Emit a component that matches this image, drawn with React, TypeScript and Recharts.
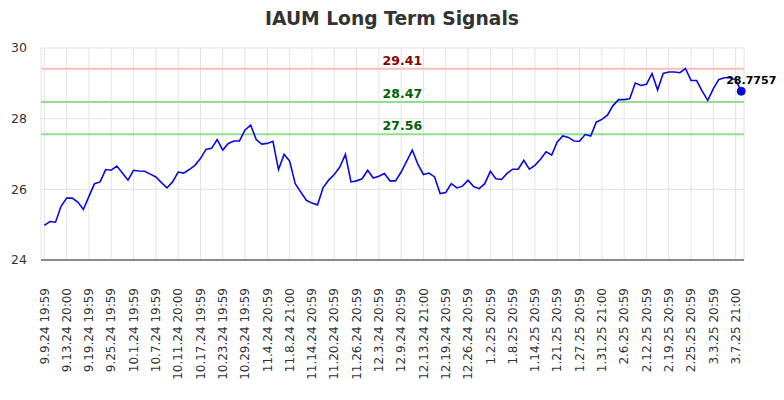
import {
  LineChart,
  Line,
  XAxis,
  YAxis,
  CartesianGrid,
  ReferenceLine,
  ReferenceDot,
} from 'recharts';

const dateLabels = [
  '9.9.24 19:59', '9.13.24 20:00', '9.19.24 19:59', '9.25.24 19:59',
  '10.1.24 19:59', '10.7.24 19:59', '10.11.24 20:00', '10.17.24 19:59',
  '10.23.24 19:59', '10.29.24 19:59', '11.4.24 20:59', '11.8.24 21:00',
  '11.14.24 20:59', '11.20.24 20:59', '11.26.24 20:59', '12.3.24 20:59',
  '12.9.24 20:59', '12.13.24 21:00', '12.19.24 20:59', '12.26.24 20:59',
  '1.2.25 20:59', '1.8.25 20:59', '1.14.25 20:59', '1.21.25 20:59',
  '1.27.25 20:59', '1.31.25 21:00', '2.6.25 20:59', '2.12.25 20:59',
  '2.19.25 20:59', '2.25.25 20:59', '3.3.25 20:59', '3.7.25 21:00',
];

// closing prices, one per trading day
const prices = [
  24.98, 25.09, 25.07, 25.52, 25.75, 25.75, 25.64, 25.43, 25.8, 26.16,
  26.21, 26.56, 26.54, 26.66, 26.46, 26.26, 26.54, 26.52, 26.51, 26.43,
  26.35, 26.19, 26.04, 26.21, 26.49, 26.46, 26.56, 26.68, 26.87, 27.13,
  27.16, 27.41, 27.11, 27.3, 27.37, 27.37, 27.68, 27.82, 27.41, 27.28,
  27.3, 27.36, 26.56, 26.99, 26.8, 26.16, 25.92, 25.69, 25.61, 25.56,
  26.05, 26.26, 26.42, 26.63, 26.99, 26.21, 26.24, 26.3, 26.54, 26.32,
  26.37, 26.45, 26.24, 26.24, 26.49, 26.8, 27.11, 26.71, 26.42, 26.46,
  26.35, 25.88, 25.91, 26.16, 26.04, 26.09, 26.26, 26.08, 26.02, 26.16,
  26.51, 26.3, 26.28, 26.45, 26.57, 26.57, 26.82, 26.57, 26.68, 26.85,
  27.06, 26.97, 27.34, 27.51, 27.47, 27.37, 27.36, 27.55, 27.51, 27.9,
  27.98, 28.1, 28.37, 28.54, 28.54, 28.56, 29.01, 28.94, 28.97, 29.28,
  28.81, 29.28, 29.32, 29.32, 29.3, 29.42, 29.08, 29.08, 28.78, 28.52,
  28.85, 29.11, 29.16, 29.16, 29.1, 28.7757,
];

const yTicks = [24, 26, 28, 30];
const resistance = 29.41;
const supports = [28.47, 27.56];

const data = prices.map((price, i) => ({ i, price }));
const xTicks = dateLabels.map((_, k) => k * 4);
const lastIdx = prices.length - 1;
const lastPrice = prices[lastIdx];

const font = 'DejaVu Sans';

function DateTick({ x, y, payload }: any) {
  const label = dateLabels[payload.value / 4];
  return (
    <text
      x={x}
      y={y + 20}
      transform={`rotate(-90, ${x}, ${y + 20})`}
      textAnchor="end"
      dy="0.35em"
      fontSize={12}
      fontFamily={font}
      fill="#333"
    >
      {label}
    </text>
  );
}

function levelLabel(value: number, color: string) {
  return ({ viewBox }: any) => (
    <text
      x={viewBox.x + viewBox.width * 0.514}
      y={viewBox.y - 4}
      textAnchor="middle"
      fontSize={12.5}
      fontWeight="bold"
      fontFamily={font}
      fill={color}
    >
      {value.toFixed(2)}
    </text>
  );
}

function lastLabel({ viewBox }: any) {
  const cx = viewBox.x + viewBox.width / 2;
  const cy = viewBox.y + viewBox.height / 2;
  return (
    <text
      x={cx - 15}
      y={cy - 7}
      fontSize={11}
      fontWeight="bold"
      fontFamily={font}
      fill="#000"
    >
      {lastPrice}
    </text>
  );
}

export default function App() {
  return (
    <div
      style={{
        position: 'absolute',
        left: 0,
        top: 0,
        width: 784,
        height: 400,
        fontFamily: font,
        background: '#fff',
      }}
    >
      <div
        style={{
          position: 'absolute',
          top: 9,
          left: 0,
          width: 784,
          textAlign: 'center',
          fontSize: 18.7,
          lineHeight: '20px',
          fontWeight: 'bold',
          color: '#333',
        }}
      >
        IAUM Long Term Signals
      </div>
      <LineChart
        width={784}
        height={400}
        data={data}
        margin={{ top: 48, right: 40, bottom: 0, left: 0 }}
      >
        <CartesianGrid stroke="#e3e3e3" />
        <XAxis
          dataKey="i"
          type="number"
          domain={[-0.6, 125.5]}
          ticks={xTicks}
          interval={0}
          height={140}
          tick={<DateTick />}
          tickLine={false}
          axisLine={{ stroke: '#222' }}
          allowDataOverflow
        />
        <YAxis
          type="number"
          domain={[24, 30]}
          ticks={yTicks}
          width={41}
          axisLine={false}
          tickLine={false}
          tickSize={6}
          tickMargin={8}
          tick={{ fontSize: 12.5, fontFamily: font, fill: '#333' }}
        />
        <ReferenceLine
          y={resistance}
          stroke="#ffbcbc"
          strokeWidth={2}
          label={levelLabel(resistance, '#8b0000')}
        />
        {supports.map((s) => (
          <ReferenceLine
            key={s}
            y={s}
            stroke="#90e090"
            strokeWidth={2}
            label={levelLabel(s, '#006400')}
          />
        ))}
        <Line
          type="linear"
          dataKey="price"
          stroke="#0a0ad8"
          strokeWidth={1.6}
          dot={false}
          isAnimationActive={false}
        />
        <ReferenceDot
          x={lastIdx}
          y={lastPrice}
          r={4}
          fill="#0a0ad8"
          stroke="#0a0ad8"
          label={lastLabel}
        />
      </LineChart>
    </div>
  );
}
